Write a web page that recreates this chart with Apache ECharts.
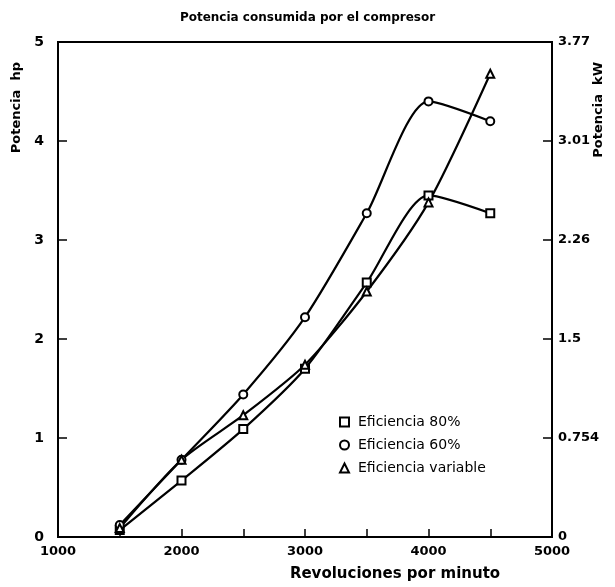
<!DOCTYPE html>
<html>
<head>
<meta charset="utf-8">
<script src="https://cdn.jsdelivr.net/npm/echarts@6/dist/echarts.min.js"></script>
<style>
  html, body { margin: 0; padding: 0; background: #fff; }
  #chart { width: 615px; height: 587px; }
</style>
</head>
<body>
<div id="chart"></div>
<script>
var rpm = [1500, 2000, 2500, 3000, 3500, 4000, 4500];
var ef80 = [0.07, 0.57, 1.09, 1.70, 2.57, 3.45, 3.27];
var ef60 = [0.12, 0.78, 1.44, 2.22, 3.27, 4.40, 4.20];
var efVar = [0.09, 0.78, 1.23, 1.74, 2.48, 3.38, 4.68];
var kwLabels = ['0', '0.754', '1.5', '2.26', '3.01', '3.77'];

var chart = echarts.init(document.getElementById('chart'), null, { renderer: 'canvas' });

var font = 'DejaVu Sans';

function pairs(vals) {
  return rpm.map(function (r, i) { return [r, vals[i]]; });
}

function lineSeries(name, vals, symbol) {
  return {
    name: name,
    type: 'line',
    smooth: 0.25,
    data: pairs(vals),
    symbol: symbol,
    symbolSize: 8,
    lineStyle: { color: '#000', width: 2.2 },
    itemStyle: { color: '#000', borderWidth: 1.5 },
    z: 3
  };
}

var option = {
  backgroundColor: '#fff',
  animation: false,
  textStyle: { fontFamily: font, color: '#000' },
  title: {
    text: 'Potencia consumida por el compresor',
    left: 'center',
    top: 7,
    textStyle: { fontSize: 12, fontWeight: 'bold', color: '#000', fontFamily: font }
  },
  grid: { left: 58, right: 63, top: 42, bottom: 46, show: true, borderColor: '#000', borderWidth: 2, backgroundColor: 'transparent' },
  legend: {
    orient: 'vertical',
    left: 334,
    top: 410,
    itemWidth: 9,
    itemHeight: 9,
    itemGap: 9,
    textStyle: { fontSize: 14, fontFamily: font, color: '#000', padding: [0, 0, 0, 4] },
    data: [
      { name: 'Eficiencia 80%', icon: 'emptyRect' },
      { name: 'Eficiencia 60%', icon: 'emptyCircle' },
      { name: 'Eficiencia variable', icon: 'emptyTriangle' }
    ]
  },
  xAxis: {
    type: 'value',
    min: 1000,
    max: 5000,
    interval: 500,
    name: 'Revoluciones por minuto',
    nameLocation: 'middle',
    nameGap: 30,
    nameTextStyle: { fontSize: 15, fontWeight: 'bold', color: '#000', fontFamily: font, padding: [0, 0, 0, 180] },
    axisLine: { show: true, onZero: false, lineStyle: { color: '#000', width: 2 } },
    axisTick: { show: true, inside: false, length: -8, lineStyle: { color: '#000', width: 1.5 } },
    axisLabel: {
      fontSize: 13, fontWeight: 'bold', color: '#000', margin: 8,
      formatter: function (v) { return v % 1000 === 0 ? String(v) : ''; }
    },
    splitLine: { show: false }
  },
  yAxis: [
    {
      type: 'value',
      min: 0,
      max: 5,
      interval: 1,
      position: 'left',
      axisLine: { show: true, lineStyle: { color: '#000', width: 2 } },
      axisTick: { show: true, inside: true, length: 9, lineStyle: { color: '#000', width: 1.5 } },
      axisLabel: { fontSize: 14, fontWeight: 'bold', color: '#000', margin: 14 },
      splitLine: { show: false }
    },
    {
      type: 'value',
      min: 0,
      max: 5,
      interval: 1,
      position: 'right',
      axisLine: { show: true, lineStyle: { color: '#000', width: 2 } },
      axisTick: { show: true, inside: true, length: 9, lineStyle: { color: '#000', width: 1.5 } },
      axisLabel: {
        fontSize: 13, fontWeight: 'bold', color: '#000', margin: 6,
        formatter: function (v) { return kwLabels[Math.round(v)]; }
      },
      splitLine: { show: false }
    }
  ],
  graphic: [
    {
      type: 'text',
      left: 10,
      top: 62,
      rotation: Math.PI / 2,
      style: { text: 'Potencia  hp', font: 'bold 13px ' + font, fill: '#000' }
    },
    {
      type: 'text',
      left: 592,
      top: 62,
      rotation: Math.PI / 2,
      style: { text: 'Potencia  kW', font: 'bold 13px ' + font, fill: '#000' }
    }
  ],
  series: [
    lineSeries('Eficiencia 80%', ef80, 'emptyRect'),
    lineSeries('Eficiencia 60%', ef60, 'emptyCircle'),
    lineSeries('Eficiencia variable', efVar, 'emptyTriangle')
  ]
};

chart.setOption(option);
</script>
</body>
</html>
